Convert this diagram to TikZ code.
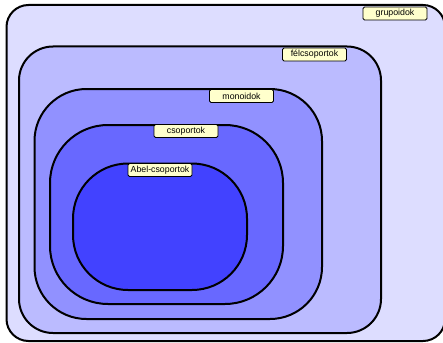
\documentclass[tikz,border=0pt]{standalone}
\usepackage{fontspec}
\setmainfont{Liberation Sans}
\definecolor{c1}{RGB}{221,221,255}
\definecolor{c2}{RGB}{187,187,255}
\definecolor{c3}{RGB}{145,145,255}
\definecolor{c4}{RGB}{104,104,255}
\definecolor{c5}{RGB}{66,66,255}
\definecolor{lab}{RGB}{255,255,204}
\begin{document}
\begin{tikzpicture}[x=1pt,y=-1pt,
  setbox/.style={draw=black,line width=2pt},
  tag/.style={draw=black,line width=0.9pt,fill=lab,rounded corners=1.5pt,
    minimum width=64pt,minimum height=13pt,inner sep=0pt,font=\fontsize{8.8}{10}\selectfont}]
\useasboundingbox (0,0) rectangle (443,342);
\clip (0,0) rectangle (443,342);
\fill[white] (0,0) rectangle (443,342);
\draw[setbox,fill=c1,rounded corners=22pt] (6.5,5) rectangle (445,341);
\draw[setbox,fill=c2,rounded corners=34pt] (19,46.5) rectangle (381,333);
\draw[setbox,fill=c3,rounded corners=52pt] (34.5,89) rectangle (322,319);
\draw[setbox,fill=c4,rounded corners=58pt] (50,125) rectangle (283,304);
\draw[setbox,fill=c5,rounded corners=55pt] (73,163.5) rectangle (247,290);
\node[tag] (g) at (395,13.5) {grupoidok};
\node[tag] (f) at (314.5,54.5) {félcsoportok};
\node[tag] (m) at (241.5,96) {monoidok};
\node[tag] (c) at (186,131) {csoportok};
\node[tag] (a) at (160,170) {Abel-csoportok};
\end{tikzpicture}
\end{document}
